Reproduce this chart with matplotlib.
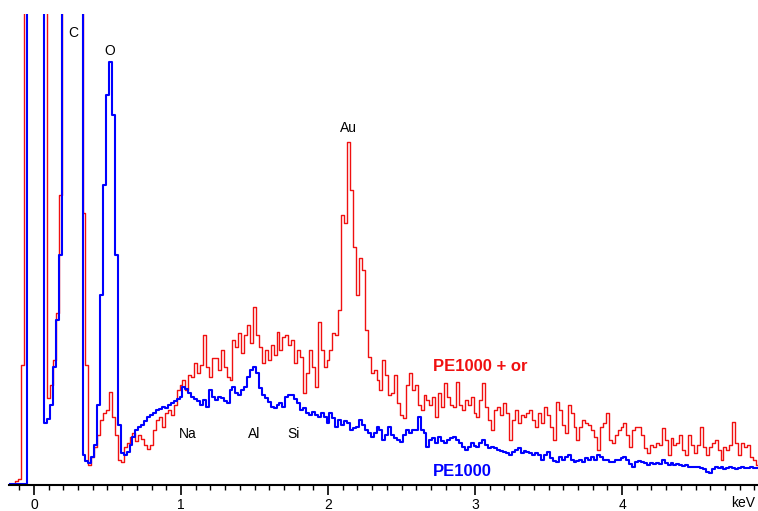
import numpy as np
import matplotlib
matplotlib.use("Agg")
import matplotlib.pyplot as plt
from matplotlib.ticker import MultipleLocator

plt.rcParams['font.family'] = ['Liberation Sans', 'DejaVu Sans']

# channel grid of the spectrum (keV)
e_start = -0.16
e_step = 0.02

# PE1000 + or (red), counts per channel
red = [
    1, 1, 4, 6, 120, 2000, 2000, 2000, 2000, 2000,
    2000, 2000, 2000, 87, 100, 125, 172, 290, 2000, 2000,
    2000, 2000, 2000, 2000, 2000, 272, 120, 20, 28, 38,
    50, 65, 72, 75, 93, 68, 50, 25, 23, 38,
    42, 48, 52, 44, 50, 46, 40, 36, 40, 55,
    65, 68, 58, 72, 75, 70, 80, 95, 100, 105,
    95, 110, 108, 122, 112, 120, 150, 118, 108, 127,
    127, 115, 135, 118, 108, 105, 145, 138, 152, 132,
    150, 160, 142, 178, 150, 138, 122, 135, 125, 140,
    130, 153, 135, 148, 150, 140, 145, 122, 135, 128,
    92, 112, 135, 118, 98, 163, 135, 118, 125, 135,
    152, 150, 175, 270, 262, 343, 295, 238, 190, 227,
    215, 155, 128, 112, 115, 105, 95, 125, 110, 90,
    92, 110, 82, 70, 67, 100, 112, 95, 100, 80,
    75, 90, 85, 80, 88, 68, 92, 78, 102, 88,
    80, 78, 103, 80, 75, 85, 80, 88, 72, 68,
    85, 102, 78, 65, 55, 75, 78, 70, 82, 72,
    45, 65, 75, 62, 70, 68, 72, 75, 65, 58,
    72, 62, 78, 70, 58, 45, 83, 75, 60, 52,
    80, 72, 58, 45, 58, 65, 62, 60, 55, 48,
    35, 58, 62, 72, 45, 42, 50, 55, 58, 62,
    50, 38, 55, 58, 58, 50, 37, 32, 40, 38,
    42, 40, 57, 45, 30, 47, 40, 42, 50, 35,
    30, 50, 40, 32, 40, 58, 38, 30, 38, 42,
    45, 35, 25, 38, 35, 40, 63, 42, 30, 42,
    38, 40, 28, 25, 20]

# PE1000 (blue)
blue = [
    1, 1, 1, 1, 1, 1, 2000, 2000, 2000, 2000,
    2000, 2000, 62, 66, 80, 118, 165, 230, 2000, 2000,
    2000, 2000, 2000, 2000, 2000, 30, 24, 22, 28, 40,
    80, 190, 300, 390, 423, 370, 230, 60, 32, 30,
    33, 40, 48, 55, 58, 60, 64, 68, 70, 72,
    75, 76, 78, 77, 80, 82, 84, 86, 88, 98,
    96, 92, 88, 86, 84, 80, 85, 78, 95, 88,
    85, 88, 87, 84, 82, 95, 98, 92, 90, 95,
    98, 108, 115, 118, 112, 97, 90, 87, 83, 78,
    77, 80, 82, 78, 88, 90, 90, 86, 82, 75,
    77, 72, 70, 73, 70, 68, 72, 68, 62, 72,
    67, 58, 65, 60, 64, 62, 55, 57, 58, 65,
    60, 55, 52, 48, 52, 58, 55, 45, 50, 58,
    50, 47, 45, 43, 50, 55, 52, 55, 55, 68,
    55, 52, 38, 45, 47, 42, 48, 44, 42, 45,
    47, 48, 45, 42, 38, 35, 38, 42, 39, 38,
    42, 45, 40, 37, 38, 37, 35, 34, 33, 32,
    30, 33, 35, 37, 32, 34, 33, 32, 30, 32,
    30, 25, 30, 33, 27, 24, 23, 28, 25, 28,
    30, 25, 23, 24, 25, 23, 27, 25, 28, 25,
    30, 28, 25, 25, 23, 23, 25, 25, 27, 28,
    25, 21, 18, 23, 24, 23, 22, 20, 22, 21,
    22, 21, 25, 22, 20, 22, 20, 21, 20, 19,
    20, 18, 18, 18, 18, 17, 16, 13, 12, 16,
    18, 17, 18, 16, 17, 18, 17, 16, 17, 18,
    17, 17, 18, 17, 17]

# element labels: (text, keV, counts)
peaks = ["C", "O", "Au", "Na", "Al", "Si"]
peak_e = [0.265, 0.517, 2.136, 1.048, 1.497, 1.762]
peak_y = [452, 434, 357, 51, 51, 51]

energy = e_start + e_step * np.arange(len(red))

W, H = 758, 511
fig = plt.figure(figsize=(W / 100, H / 100), dpi=100)
ax = fig.add_axes([9 / W, 26 / H, (W - 9) / W, (485 - 14) / H])

ax.plot(energy, red, drawstyle='steps-mid', color='#f01010', lw=1.0)
ax.plot(energy, blue, drawstyle='steps-mid', color='#0000ff', lw=1.5)

ax.set_xlim(-0.170, 4.925)
ax.set_ylim(0, 471)

for name, x, y in zip(peaks, peak_e, peak_y):
    ax.text(x, y, name, ha='center', va='center', fontsize=10, color='black')

ax.text(2.714, 119, "PE1000 + or", color='#f01010', fontsize=12,
        fontweight='bold', ha='left', va='center')
ax.text(2.714, 14, "PE1000", color='#0000ff', fontsize=12,
        fontweight='bold', ha='left', va='center')

for s in ['left', 'top', 'right']:
    ax.spines[s].set_visible(False)
ax.spines['bottom'].set_linewidth(1.5)
ax.set_yticks([])
ax.xaxis.set_major_locator(MultipleLocator(1))
ax.xaxis.set_minor_locator(MultipleLocator(0.1))
ax.tick_params(axis='x', which='major', direction='out', length=7.5,
               width=1.2, labelsize=10, pad=1.5)
ax.tick_params(axis='x', which='minor', direction='out', length=3.6, width=1.0)

fig.text(731 / W, 1 / H, "keV", fontsize=10, ha='left', va='bottom')

fig.savefig("out.png", dpi=100)
